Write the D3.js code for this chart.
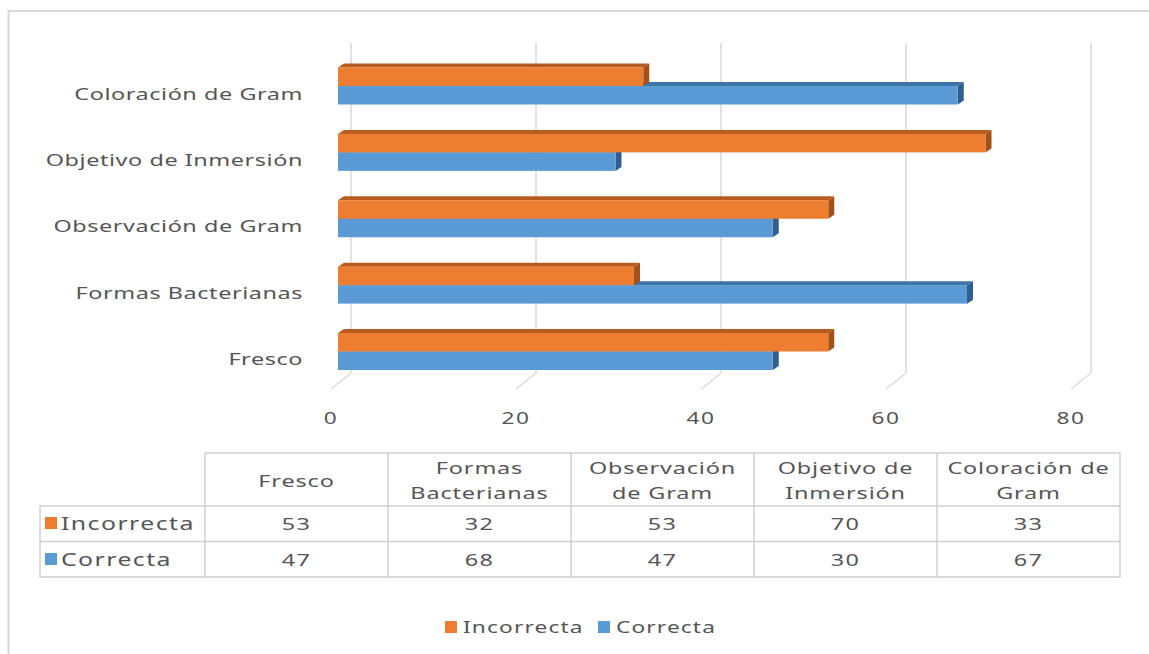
<!DOCTYPE html>
<html><head><meta charset="utf-8">
<script src="https://cdn.jsdelivr.net/npm/d3@7"></script>
<style>
html,body{margin:0;padding:0;background:#fff;}
svg text{font-family:"Noto Sans","Open Sans",sans-serif;fill:#555555;}
</style></head>
<body>
<svg id="c" width="1149" height="654"></svg>
<script>
const categories = ["Fresco","Formas Bacterianas","Observación de Gram","Objetivo de Inmersión","Coloración de Gram"];
const headerLines = [["Fresco"],["Formas","Bacterianas"],["Observación","de Gram"],["Objetivo de","Inmersión"],["Coloración de","Gram"]];
const incorrecta = [53,32,53,70,33];
const correcta = [47,68,47,30,67];
const ticks = [0,20,40,60,80];
const seriesNames = ["Incorrecta","Correcta"];

const colors = {
  Incorrecta:{front:"#ED7D31", top:"#B85B1E", side:"#A4501A"},
  Correcta:{front:"#5B9BD5", top:"#3D73A6", side:"#2F5F8F"}
};
const SX = 1.42;

const svg = d3.select("#c");
// outer frame
svg.append("rect").attr("x",8.5).attr("y",11).attr("width",1200).attr("height",700)
  .attr("fill","#fff").attr("stroke","#d9d9d9").attr("stroke-width",2);

const x = d3.scaleLinear().domain([0,80]).range([338,1078]);
const y = d3.scalePoint().domain(categories).range([351.5,86]);

function stext(g, tx, ty, str, size, anchor, ls){
  return g.append("text").attr("transform",`translate(${tx},${ty}) scale(${SX},1)`)
    .attr("text-anchor",anchor).attr("dominant-baseline","central")
    .attr("font-size",size).attr("letter-spacing",ls==null?0.3:ls).text(str);
}

// gridlines (back wall + floor)
const grid = svg.append("g");
ticks.forEach(t=>{
  const bx = x(t)+13;
  grid.append("line").attr("x1",bx).attr("x2",bx).attr("y1",43).attr("y2",373)
    .attr("stroke","#d9d9d9").attr("stroke-width",1.5);
  grid.append("line").attr("x1",bx).attr("x2",x(t)-7).attr("y1",373).attr("y2",389)
    .attr("stroke","#d9d9d9").attr("stroke-width",1.5);
  stext(grid, x(t)-7, 418, String(t), 16, "middle", 1);
});

// bars
const DX=6, DY=-4, BH=18.5;
const bars = svg.append("g");
function bar(v, yTop, c){
  const x0 = x(0), x1 = x(v);
  const g = bars.append("g");
  g.append("path").attr("d",`M${x0},${yTop}L${x0+DX},${yTop+DY}L${x1+DX},${yTop+DY}L${x1},${yTop}Z`).attr("fill",c.top);
  g.append("path").attr("d",`M${x1},${yTop}L${x1+DX},${yTop+DY}L${x1+DX},${yTop+BH+DY}L${x1},${yTop+BH}Z`).attr("fill",c.side);
  g.append("rect").attr("x",x0).attr("y",yTop).attr("width",x1-x0).attr("height",BH).attr("fill",c.front);
}
categories.forEach((cat,i)=>{
  const cy = y(cat);
  bar(correcta[i], cy, colors.Correcta);
  bar(incorrecta[i], cy-BH, colors.Incorrecta);
});

// category labels
const labs = svg.append("g");
categories.forEach(cat=>{
  stext(labs, 303, y(cat)+7, cat, 16.5, "end", 0.4);
});

// data table
const col = d3.scaleBand().domain(categories).range([205,1120]);
const tbl = svg.append("g");
const border = "#cfcfcf";
const yH0=453, yH1=506, yR1=541.5, yR2=577, xL=40, xR=1120;
tbl.append("path").attr("fill","none").attr("stroke",border).attr("stroke-width",1.5)
  .attr("d",`M${col.range()[0]},${yH0}H${xR}V${yR2}H${xL}V${yH1}H${xR}M${xL},${yR1}H${xR}M${col.range()[0]},${yH0}V${yR2}`
    + categories.map(c=>`M${col(c)+col.bandwidth()},${yH0}V${yR2}`).join(""));
categories.forEach((cat,i)=>{
  const cx = col(cat)+col.bandwidth()/2;
  const lines = headerLines[i];
  lines.forEach((ln,j)=>{
    const ly = lines.length===1 ? 480 : 467 + j*25;
    stext(tbl, cx, ly, ln, 16.5, "middle", 0.6);
  });
  stext(tbl, cx, 523, String(incorrecta[i]), 16.5, "middle", 1);
  stext(tbl, cx, 559, String(correcta[i]), 16.5, "middle", 1);
});
[["Incorrecta",523],["Correcta",559]].forEach(([n,ry])=>{
  tbl.append("rect").attr("x",45).attr("y",ry-6).attr("width",12).attr("height",12).attr("fill",colors[n].front);
  stext(tbl, 61, ry, n, 17.5, "start", 1);
});

// legend
const leg = svg.append("g");
const legItems = [["Incorrecta",445],["Correcta",598]];
legItems.forEach(([n,lx])=>{
  leg.append("rect").attr("x",lx).attr("y",621).attr("width",12).attr("height",12).attr("fill",colors[n].front);
  stext(leg, lx+18, 627, n, 16, "start", 0.8);
});
</script>
</body></html>
